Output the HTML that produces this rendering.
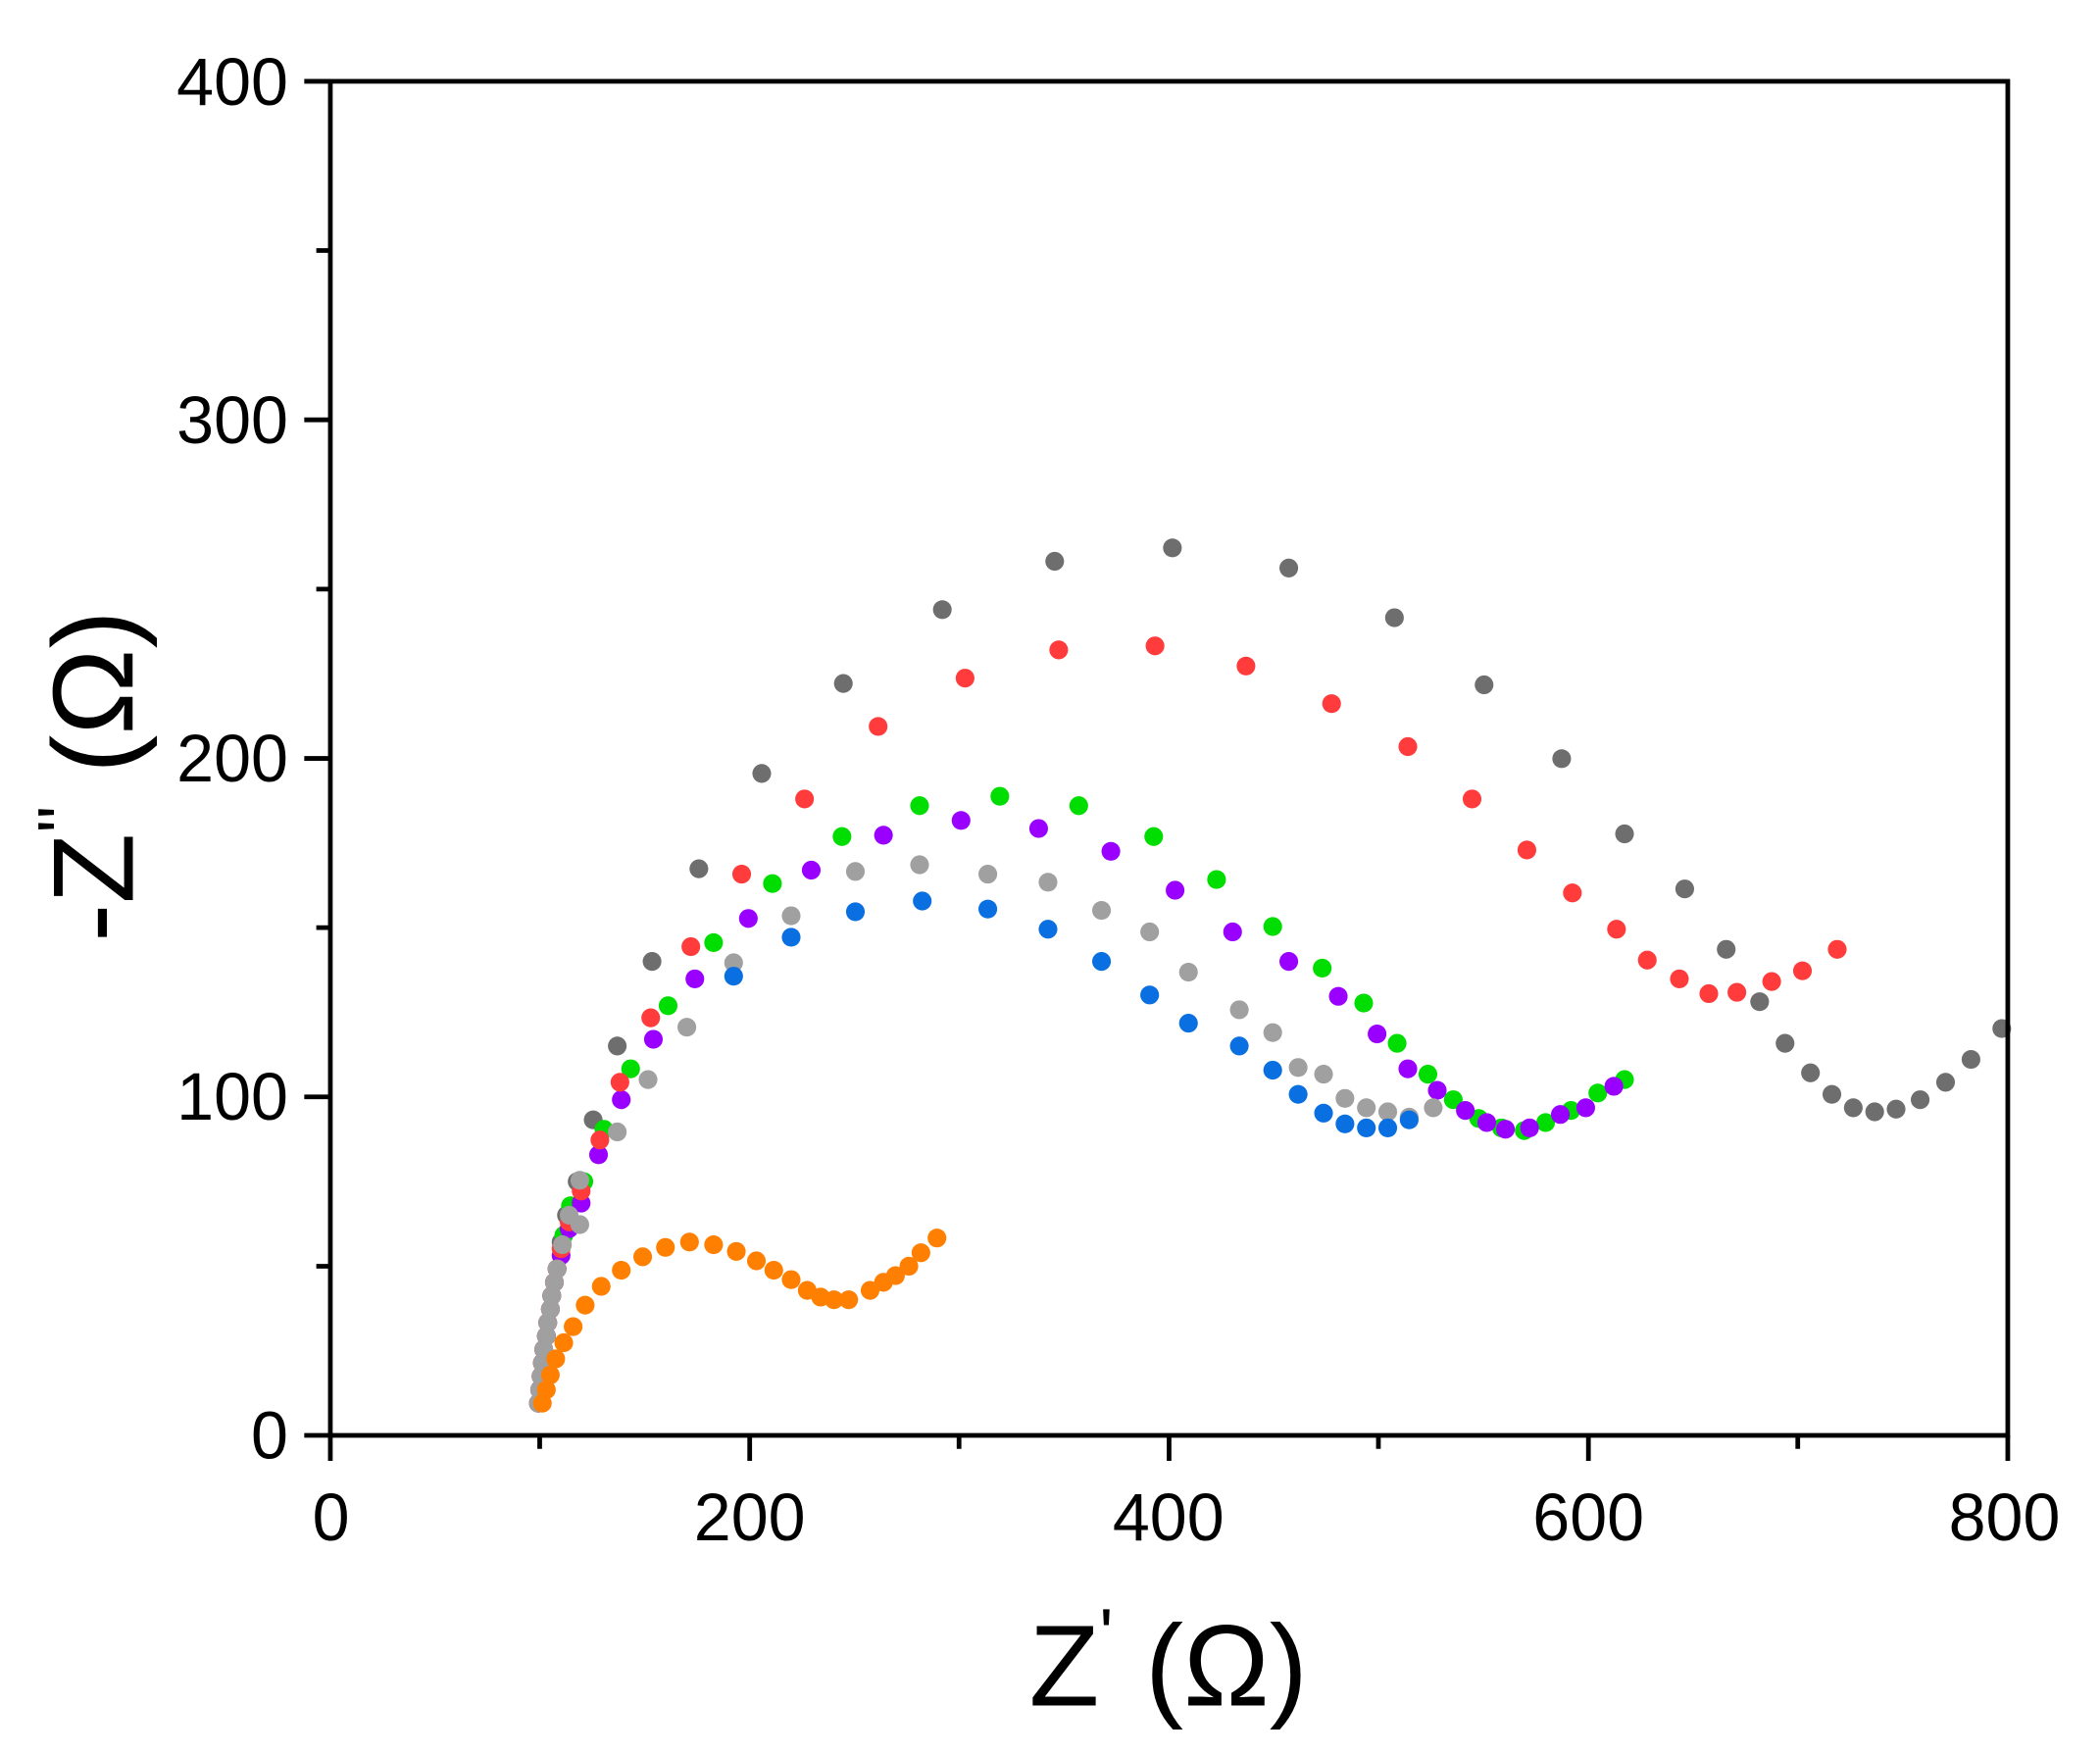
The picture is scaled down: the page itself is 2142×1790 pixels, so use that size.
<!DOCTYPE html>
<html><head><meta charset="utf-8"><style>
html,body{margin:0;padding:0;background:#fff;}
svg{display:block;}
text{font-family:"Liberation Sans",Arial,sans-serif;fill:#000;}
</style></head><body>
<svg width="2142" height="1790" viewBox="0 0 1560 1303.6" preserveAspectRatio="none" xmlns="http://www.w3.org/2000/svg">
<rect x="0" y="0" width="1560" height="1304" fill="#fff"/>
<g transform="matrix(0.9937 0 0 0.99732 1.445 0.06)">
<g id="pts"></g>
<g stroke="#000" stroke-width="3.5" fill="none">
<rect x="245.5" y="60.5" width="1254" height="1008.5"/>
<path d="M226 60.5H245.5M226 312.6H245.5M226 564.8H245.5M226 816.9H245.5M226 1069H245.5"/>
<path d="M235 186.5H245.5M235 438.7H245.5M235 690.8H245.5M235 943H245.5"/>
<path d="M245.5 1069V1088M559 1069V1088M872.5 1069V1088M1186 1069V1088M1499.5 1069V1088"/>
<path d="M402 1069V1079M715.5 1069V1079M1029 1069V1079M1342.5 1069V1079"/>
</g>
<g font-size="50" text-anchor="end">
<text x="214" y="78">400</text>
<text x="214" y="330">300</text>
<text x="214" y="582">200</text>
<text x="214" y="834">100</text>
<text x="214" y="1086">0</text>
</g>
<g font-size="50" text-anchor="middle">
<text x="246" y="1147">0</text>
<text x="559" y="1147">200</text>
<text x="872" y="1147">400</text>
<text x="1186" y="1147">600</text>
<text x="1497" y="1147">800</text>
</g>
<text x="872" y="1270" font-size="86" text-anchor="middle">Z<tspan font-size="54" dy="-34">'</tspan><tspan dy="34"> (Ω)</tspan></text>
<text transform="translate(98,578) rotate(-90)" font-size="86" text-anchor="middle">-Z<tspan font-size="54" dy="-34">''</tspan><tspan dy="34"> (Ω)</tspan></text>
</g>
</svg>
<script>
var low=[[401,1045],[402,1035],[403,1025],[404,1015],[405,1005],[407,995],[408,985],[410,975],[411,965],[413,955],[415,945]];
var S=[
["#6e6e6e",[[418,925],[422,905],[430,880],[442,834],[460,779],[486,716],[521,647],[568,576],[629,509],[703,454],[787,418],[875,408],[962,423],[1041,460],[1108,510],[1166,565],[1213,621],[1258,662],[1289,707],[1314,746],[1333,777],[1352,799],[1368,815],[1384,825],[1400,828],[1416,826],[1434,819],[1453,806],[1472,789],[1495,766]]],
["#00dd00",[[420,920],[425,898],[435,880],[450,841],[470,796],[498,749],[532,702],[576,658],[628,623],[686,600],[746,593],[805,600],[861,623],[908,655],[950,690],[987,721],[1018,747],[1043,777],[1066,800],[1085,819],[1104,833],[1121,840],[1138,842],[1154,836],[1173,827],[1193,814],[1213,804]]],
["#9900ff",[[418,935],[424,915],[433,896],[446,860],[463,819],[487,774],[518,729],[558,684],[605,648],[659,622],[717,611],[775,617],[829,634],[877,663],[920,694],[962,716],[999,742],[1028,770],[1051,796],[1073,812],[1094,827],[1110,836],[1124,841],[1142,840],[1165,830],[1184,825],[1205,809]]],
["#ff3b3b",[[418,930],[424,910],[433,887],[447,849],[462,806],[485,758],[515,705],[553,651],[600,595],[655,541],[720,505],[790,484],[862,481],[930,496],[994,524],[1051,556],[1099,595],[1140,633],[1174,665],[1207,692],[1230,715],[1254,729],[1276,740],[1297,739],[1323,731],[1346,723],[1372,707]]],
["#a0a0a0",[[419,927],[424,905],[432,912],[432,879],[460,843],[483,804],[512,765],[547,717],[590,682],[638,649],[686,644],[737,651],[782,657],[822,678],[858,694],[887,724],[925,752],[950,769],[969,795],[988,800],[1004,818],[1020,825],[1036,828],[1052,832],[1070,825]]],
["#0a6fe0",[[547,727],[590,698],[638,679],[688,671],[737,677],[782,692],[822,716],[858,741],[887,762],[925,779],[950,797],[969,815],[988,829],[1004,837],[1020,840],[1036,840],[1052,834]]],
["#ff8000",[[404,1045],[407,1035],[410,1024],[414,1012],[420,1000],[427,988],[436,972],[448,958],[463,946],[479,936],[496,929],[514,925],[532,927],[549,932],[564,939],[577,946],[590,953],[602,961],[612,966],[622,968],[633,968],[649,961],[659,955],[668,950],[678,943],[687,933],[699,922]]]
];
var g=document.getElementById('pts'),h='';
S.forEach(function(s,i){var p=(i<6&&i!=5)?low.concat(s[1]):s[1];p.forEach(function(q){h+='<circle cx="'+q[0]+'" cy="'+q[1]+'" r="7" fill="'+s[0]+'"/>';});});
g.innerHTML=h;
</script>
</body></html>
